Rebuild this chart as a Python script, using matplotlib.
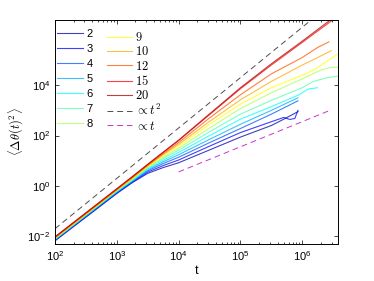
import numpy as np
import matplotlib
matplotlib.use('Agg')
import matplotlib.pyplot as plt
from matplotlib.ticker import LogLocator, NullFormatter

plt.rcParams['font.family'] = ['Liberation Sans', 'DejaVu Sans']
plt.rcParams['mathtext.fontset'] = 'cm'

# number of particles, one curve each
n_vals = [2, 3, 4, 5, 6, 7, 8, 9, 10, 12, 15, 20]

# log10 t / log10 <dtheta^2>
curve_logt = [
    [2.0, 3.0, 3.25, 3.5, 3.75, 4.0, 4.5, 5.0, 5.5, 5.7, 5.93],
    [2.0, 3.0, 3.25, 3.5, 3.75, 4.0, 4.5, 5.0, 5.5, 5.7, 5.8, 5.88, 5.93],
    [2.0, 3.0, 3.25, 3.5, 3.75, 4.0, 4.5, 5.0, 5.5, 5.93],
    [2.0, 3.0, 3.25, 3.5, 3.75, 4.0, 4.5, 5.0, 5.5, 5.93],
    [2.0, 3.0, 3.25, 3.5, 3.75, 4.0, 4.5, 5.0, 5.5, 5.93, 6.1, 6.25],
    [2.0, 3.0, 3.25, 3.5, 3.75, 4.0, 4.5, 5.0, 5.5, 6.0, 6.17, 6.4, 6.6],
    [2.0, 3.0, 3.25, 3.5, 3.75, 4.0, 4.5, 5.0, 5.5, 6.0, 6.3, 6.45, 6.6],
    [2.0, 3.0, 3.25, 3.5, 3.75, 4.0, 4.5, 5.0, 5.5, 6.0, 6.18, 6.4, 6.6],
    [2.0, 3.0, 3.25, 3.5, 3.75, 4.0, 4.5, 5.0, 5.5, 6.0, 6.25, 6.47],
    [2.0, 3.0, 3.25, 3.5, 3.75, 4.0, 4.5, 5.0, 5.5, 6.0, 6.25, 6.43],
    [2.0, 3.0, 3.25, 3.5, 3.75, 4.0, 4.5, 5.0, 5.5, 6.0, 6.47],
    [2.0, 3.0, 3.25, 3.5, 3.75, 4.0, 4.5, 5.0, 5.5, 6.0, 6.47],
]
curve_logy = [
    [-2.18, -0.30, 0.13, 0.50, 0.73, 0.92, 1.43, 1.94, 2.40, 2.65, 2.95],
    [-2.16, -0.28, 0.15, 0.55, 0.81, 1.03, 1.58, 2.12, 2.55, 2.72, 2.64, 2.68, 3.0],
    [-2.15, -0.26, 0.17, 0.60, 0.89, 1.14, 1.72, 2.28, 2.85, 3.38],
    [-2.13, -0.24, 0.19, 0.64, 0.96, 1.24, 1.85, 2.45, 3.00, 3.50],
    [-2.12, -0.22, 0.22, 0.68, 1.02, 1.33, 2.00, 2.65, 3.15, 3.60, 3.85, 3.90],
    [-2.10, -0.20, 0.25, 0.72, 1.09, 1.42, 2.15, 2.85, 3.40, 3.90, 4.14, 4.30, 4.37],
    [-2.09, -0.18, 0.27, 0.75, 1.14, 1.50, 2.30, 3.07, 3.70, 4.25, 4.60, 4.70, 4.72],
    [-2.08, -0.17, 0.29, 0.78, 1.19, 1.58, 2.45, 3.25, 3.90, 4.40, 4.60, 4.95, 5.28],
    [-2.07, -0.16, 0.31, 0.80, 1.24, 1.65, 2.56, 3.42, 4.15, 4.80, 5.10, 5.37],
    [-2.05, -0.14, 0.33, 0.82, 1.28, 1.72, 2.70, 3.62, 4.45, 5.10, 5.50, 5.72],
    [-2.03, -0.12, 0.36, 0.85, 1.33, 1.80, 2.83, 3.86, 4.80, 5.70, 6.55],
    [-2.02, -0.11, 0.37, 0.86, 1.34, 1.82, 2.86, 3.90, 4.85, 5.75, 6.62],
]

# guide lines (end points)
ref2_t = [1e2, 1.5e6]
ref2_y = [2e-2, 4.5e6]
ref1_t = [1e4, 2.8e6]
ref1_y = [3.6, 1.0e3]

# matlab jet(12)
jet12 = [(0, 0, 0.667), (0, 0, 1), (0, 0.333, 1), (0, 0.667, 1), (0, 1, 1),
         (0.333, 1, 0.667), (0.667, 1, 0.333), (1, 1, 0), (1, 0.667, 0),
         (1, 0.333, 0), (1, 0, 0), (0.667, 0, 0)]

fig = plt.figure(figsize=(3.74, 2.81), dpi=100)
ax = fig.add_axes([0.147, 0.132, 0.757, 0.797])

lines = []
for n, lt, ly, c in zip(n_vals, curve_logt, curve_logy, jet12):
    l, = ax.plot(10**np.array(lt), 10**np.array(ly), color=c, lw=0.8, alpha=0.75,
                 label=str(n))
    lines.append(l)

l2, = ax.plot(ref2_t, ref2_y, color='0.3', lw=0.7, dashes=(6, 4), label=r'$\propto t^2$')
l1, = ax.plot(ref1_t, ref1_y, color='m', lw=0.7, alpha=0.8, dashes=(6, 4), label=r'$\propto t$')

ax.set_xscale('log')
ax.set_yscale('log')
ax.set_xlim(1e2, 3.8e6)
ax.set_ylim(5e-3, 3.9e6)
ax.set_xticks([1e2, 1e3, 1e4, 1e5, 1e6])
ax.set_yticks([1e-2, 1e0, 1e2, 1e4])
ax.xaxis.set_minor_locator(LogLocator(base=10, subs=np.arange(2, 10), numticks=20))
ax.xaxis.set_minor_formatter(NullFormatter())
ax.yaxis.set_minor_locator(matplotlib.ticker.NullLocator())
ax.tick_params(which='both', direction='in', top=True, right=True, labelsize=8, width=0.5)
ax.tick_params(which='major', length=3)
ax.tick_params(which='minor', length=1.5)
for s in ax.spines.values():
    s.set_linewidth(0.7)

ax.set_xlabel('t', fontsize=9, labelpad=2)
ax.set_ylabel(r'$\langle\Delta\theta(t)^2\rangle$', fontsize=9, labelpad=1)

leg1 = ax.legend(handles=lines[:7], loc='upper left', bbox_to_anchor=(0.008, 0.958),
                 frameon=False, fontsize=8, handlelength=2.3, handletextpad=0.35,
                 labelspacing=0.45, borderpad=0, borderaxespad=0)
ax.add_artist(leg1)
ax.legend(handles=lines[7:] + [l2, l1], labels=[r'$%d$' % n for n in n_vals[7:]] +
          [r'$\propto t^2$', r'$\propto t$'], loc='upper left',
          bbox_to_anchor=(0.185, 0.95), frameon=False, fontsize=9, handlelength=2.0,
          handletextpad=0.25, labelspacing=0.1, borderpad=0, borderaxespad=0)

fig.savefig('out.png', dpi=100)
